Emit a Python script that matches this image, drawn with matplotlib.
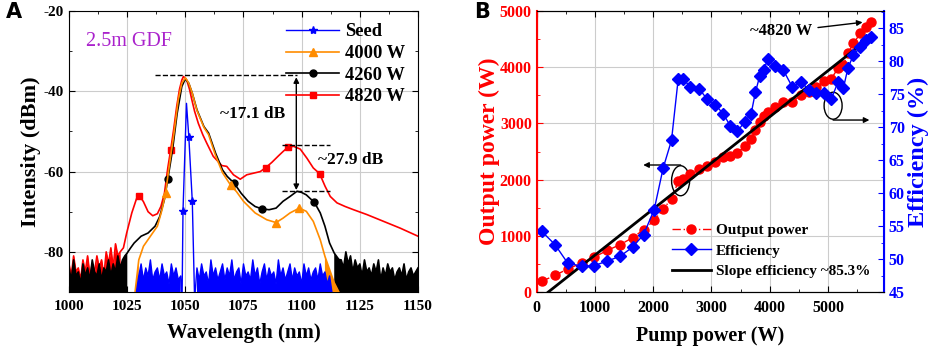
import matplotlib
matplotlib.use("Agg")
import matplotlib.pyplot as plt
import numpy as np
from matplotlib.patches import Ellipse

plt.rcParams['font.family'] = ['Liberation Serif', 'DejaVu Serif']
plt.rcParams['font.weight'] = 'bold'
plt.rcParams['axes.unicode_minus'] = False

# ---------------- Panel A: spectra ----------------
# noise-floor parts are given as their upper envelope (filled down to the axis)
seed_wl_left = np.arange(1029, 1049)
seed_left = [-90, -86, -83, -87, -84, -86, -82, -87, -85, -84,
             -87, -83, -86, -85, -88, -83, -86, -84, -87, -86]
seed_wl_peak = [1048.6, 1049, 1050.5, 1051.5, 1053, 1054]
seed_peak = [-92, -69.8, -43, -51.3, -67.4, -92]
seed_wl_right = np.arange(1055, 1114)
seed_right = [-84, -87, -83, -86, -85, -88, -82, -86, -84, -87,
              -85, -83, -87, -84, -86, -82, -87, -85, -84, -88,
              -83, -86, -85, -87, -82, -86, -84, -88, -85, -83,
              -87, -84, -86, -85, -88, -82, -86, -84, -87, -85,
              -83, -87, -84, -86, -85, -88, -83, -86, -84, -87,
              -85, -84, -87, -83, -86, -85, -88, -86, -90]
seed_marks = [1049, 1051.5, 1053]

w4000_wl = [1028.4, 1030, 1032, 1035, 1038, 1040, 1041.5, 1043, 1045, 1047,
            1048.5, 1050, 1051.5, 1053, 1055, 1058, 1060, 1063, 1066, 1069.5,
            1072, 1075, 1080, 1085, 1089, 1092, 1095, 1099, 1102, 1105,
            1108, 1110, 1112, 1114, 1116, 1117]
w4000 = [-90, -82, -78.6, -76.1, -73.6, -69.5, -65.4, -59, -51, -42,
         -38, -36.6, -38, -40.5, -44.8, -49, -50.8, -56, -60.3, -63.4,
         -65, -67.4, -70.3, -72, -72.7, -71.6, -70.3, -69.1, -69.9, -72.4,
         -77, -81.1, -84.4, -87.7, -90, -92]
w4000_marks = [1041.5, 1069.5, 1089, 1099]

w4260_wl_left = np.arange(1000, 1025)
w4260_left = [-84, -87, -82, -86, -85, -88, -83, -86, -84, -87, -82, -85, -86,
              -83, -87, -84, -85, -82, -86, -83, -85, -81, -84, -82, -81]
w4260_wl = [1025, 1026.5, 1028, 1031, 1034, 1037, 1039, 1041, 1042.5, 1044.5,
            1046.5, 1048.5, 1050, 1051.5, 1053, 1055, 1058, 1060, 1063, 1066,
            1068, 1071, 1074, 1077, 1080, 1083, 1086, 1089, 1092, 1095,
            1098, 1100, 1102, 1105.5, 1108, 1110, 1112, 1114, 1116]
w4260 = [-80.3, -79, -77.8, -76.1, -75.3, -73.6, -71.2, -67, -61.8, -54.6,
         -45.5, -38.8, -36.9, -38, -40.5, -44.6, -48.8, -50.4, -55.4, -59.6,
         -61.2, -62.9, -65.4, -67.4, -68.7, -69.3, -69.5, -69.1, -67.4, -66.2,
         -64.9, -65.2, -65.8, -67.7, -70.3, -73.6, -77.8, -80.3, -81.9]
w4260_wl_right = np.arange(1117, 1151)
w4260_right = [-82, -84, -80, -83, -81, -85, -82, -84, -83, -86,
               -82, -85, -84, -86, -83, -85, -82, -87, -84, -86,
               -83, -85, -84, -87, -85, -84, -86, -83, -87, -85,
               -84, -86, -85, -84]
w4260_marks = [1042.5, 1071, 1083, 1105.5]

w4820_wl_left = np.arange(1000, 1022)
w4820_left = [-83, -86, -81, -85, -84, -87, -82, -85, -81, -86, -83,
              -85, -81, -84, -82, -86, -80, -83, -79, -84, -78, -81]
w4820_wl = [1022, 1023.4, 1024.8, 1027, 1029, 1030.3, 1032, 1034, 1036, 1038,
            1039.5, 1041, 1042.5, 1043.7, 1045, 1046.3, 1047.5, 1048.5, 1049.2, 1050.6,
            1051.8, 1052.8, 1054, 1055.6, 1057.5, 1059.2, 1062, 1065.7, 1067.8, 1070.7,
            1073.6, 1076.4, 1079.3, 1082.2, 1084.6, 1087.2, 1090, 1092, 1094, 1096.5,
            1099.4, 1102.3, 1105, 1107.7, 1110.1, 1112.3, 1115.2, 1118.7, 1122.3, 1128,
            1135.2, 1142.4, 1150]
w4820 = [-80, -79, -75.3, -70.3, -66.8, -66, -67.5, -70, -71, -70.5,
         -68.7, -65.5, -59, -54.6, -49.5, -43.8, -39.5, -37.2, -36.3, -37.2,
         -39.5, -42.1, -45, -48, -50.8, -52.9, -56.2, -58.5, -58.7, -60.8,
         -61.9, -60.8, -60.4, -60, -59, -57.7, -56.1, -55, -54, -53.7,
         -54.4, -56.7, -59.1, -60.5, -63.7, -66.2, -67.8, -68.7, -69.5, -70.7,
         -72.4, -74.1, -76.1]
w4820_marks = [1030.3, 1043.7, 1084.6, 1094, 1107.7]

# ---------------- Panel B: power & efficiency ----------------
pump = [86, 314, 531, 771, 989, 1211, 1429, 1646, 1835, 2017,
        2171, 2314, 2429, 2514, 2635, 2789, 2920, 3063, 3205, 3320,
        3446, 3571, 3680, 3754, 3830, 3900, 3965, 4097, 4235, 4386,
        4537, 4671, 4800, 4935, 5057, 5171, 5263, 5343, 5435, 5557,
        5657, 5737]
out_power = [190, 296, 409, 515, 622, 740, 841, 966, 1108, 1274,
             1481, 1653, 1967, 2008, 2103, 2186, 2251, 2316, 2399, 2429,
             2470, 2601, 2719, 2885, 3021, 3134, 3211, 3300, 3389, 3389,
             3507, 3566, 3643, 3756, 3797, 3981, 4040, 4248, 4425, 4603,
             4722, 4810]
efficiency = [54.2, 52.2, 49.4, 48.9, 49.0, 49.7, 50.4, 51.8, 53.7, 57.5,
              63.8, 68.0, 77.3, 77.3, 76.1, 75.8, 74.3, 73.4, 72.0, 70.2,
              69.4, 70.8, 72.0, 75.3, 77.8, 78.7, 80.3, 79.2, 78.6, 76.1,
              76.8, 75.7, 75.2, 75.1, 74.3, 76.8, 75.9, 79.0, 80.9, 82.2,
              83.2, 83.7]
slope_pump = [200, 5490]
slope_out = [0, 4340]


def mark_idx(wl, marks):
    wl = np.asarray(wl)
    return [int(np.argmin(np.abs(wl - m))) for m in marks]


fig = plt.figure(figsize=(9.41, 3.54), dpi=100)

# ---- A ----
axA = fig.add_axes([0.0733, 0.1751, 0.3709, 0.7938])
ms = 5
orange = '#FF8C00'

r_wl = np.concatenate([w4820_wl_left, w4820_wl])
r_val = np.concatenate([w4820_left, w4820])
axA.plot(r_wl, r_val, color='red', lw=1.2, marker='s', ms=ms,
         markevery=mark_idx(r_wl, w4820_marks), label='4820 W', zorder=2)
axA.fill_between(r_wl, r_val, -95, where=r_wl < 1023, color='red', lw=0, zorder=2)

k_wl = np.concatenate([w4260_wl_left, w4260_wl, w4260_wl_right])
k_val = np.concatenate([w4260_left, w4260, w4260_right])
axA.plot(k_wl, k_val, color='black', lw=1.2, marker='o', ms=ms,
         markevery=mark_idx(k_wl, w4260_marks), label='4260 W', zorder=3)
axA.fill_between(k_wl, k_val, -95, where=(k_wl < 1026) | (k_wl > 1113),
                 color='black', lw=0, zorder=3)

o_wl = np.asarray(w4000_wl)
o_val = np.asarray(w4000)
axA.plot(o_wl, o_val, color=orange, lw=1.2, marker='^', ms=ms + 1,
         markevery=mark_idx(o_wl, w4000_marks), label='4000 W', zorder=4)
axA.fill_between(o_wl, o_val, -95, where=(o_wl < 1031) | (o_wl > 1109),
                 color=orange, lw=0, zorder=4)

s_wl = np.concatenate([seed_wl_left, seed_wl_peak, seed_wl_right])
s_val = np.concatenate([seed_left, seed_peak, seed_right])
axA.plot(s_wl, s_val, color='blue', lw=1.0, marker='*', ms=ms + 1,
         markevery=mark_idx(s_wl, seed_marks), label='Seed', zorder=5)
axA.fill_between(s_wl, s_val, -95, where=(s_wl < 1048.5) | (s_wl > 1054.5),
                 color='blue', lw=0, zorder=5)

axA.set_xlim(1000, 1150)
axA.set_ylim(-90, -20)
axA.set_xticks([1000, 1025, 1050, 1075, 1100, 1125, 1150])
axA.set_yticks([-20, -40, -60, -80])
axA.set_xticks(np.arange(1012.5, 1150, 25), minor=True)
axA.set_yticks(np.arange(-90, -20, 10), minor=True)
axA.grid(True, color='#cccccc', lw=0.8, zorder=0)
axA.tick_params(which='both', direction='in', top=True, right=True, labelsize=11)
axA.tick_params(axis='x', pad=6)
axA.tick_params(which='major', length=4)
axA.tick_params(which='minor', length=2)
axA.set_xlabel('Wavelength (nm)', fontsize=15, fontweight='bold', labelpad=7)
axA.set_ylabel('Intensity (dBm)', fontsize=16, fontweight='bold', labelpad=2)

h, l = axA.get_legend_handles_labels()
axA.legend(h[::-1], l[::-1], loc='upper right', bbox_to_anchor=(0.995, 0.995),
           frameon=False, fontsize=13.3, handlelength=2.9, labelspacing=0.25,
           handletextpad=0.3, borderaxespad=0.2)

axA.text(1007.3, -27.7, '2.5m GDF', color='#AA22CC', fontsize=14.5,
         fontweight='normal', va='center')
axA.plot([1037, 1098], [-36, -36], 'k--', lw=1.0)
axA.plot([1091.5, 1112.3], [-53.3, -53.3], 'k--', lw=1.0)
axA.plot([1091.5, 1112.3], [-64.8, -64.8], 'k--', lw=1.0)
axA.annotate('', xy=(1097.7, -36.5), xytext=(1097.7, -64.6),
             arrowprops=dict(arrowstyle='<|-|>', color='black', lw=1.0,
                             mutation_scale=8, shrinkA=0, shrinkB=0))
axA.text(1079, -45.7, '~17.1 dB', ha='center', va='center', fontsize=12.5)
axA.text(1121, -57, '~27.9 dB', ha='center', va='center', fontsize=12.5)

# ---- B ----
axB = fig.add_axes([0.5703, 0.1751, 0.3691, 0.7938])
axE = axB.twinx()
axB.plot(slope_pump, slope_out, color='black', lw=2, label='Slope efficiency ~85.3%', zorder=3)
axB.plot(pump, out_power, color='red', ls=(0, (6, 2, 1, 2)), lw=1, marker='o', ms=6.5,
         label='Output power', zorder=2)
lineE, = axE.plot(pump, efficiency, color='blue', lw=1, marker='D', ms=6,
                  label='Efficiency')

axB.set_xlim(0, 5960)
axB.set_ylim(0, 5000)
axE.set_ylim(45, 87.6)
axB.set_xticks(np.arange(0, 6000, 1000))
axB.set_xticks(np.arange(500, 6000, 1000), minor=True)
axB.set_yticks(np.arange(0, 5001, 1000))
axB.set_yticks(np.arange(500, 5000, 1000), minor=True)
axE.set_yticks(np.arange(45, 86, 5))
axE.set_yticks(np.arange(47.5, 87.6, 5), minor=True)
axB.grid(True, color='#cccccc', lw=0.8, zorder=0)
axB.set_axisbelow(True)

axB.tick_params(which='both', direction='in', top=True, labelsize=11.5)
axB.tick_params(axis='x', pad=6)
axB.tick_params(axis='y', which='both', colors='red', labelsize=11.5)
axB.tick_params(which='major', length=4)
axB.tick_params(which='minor', length=2)
axE.tick_params(which='both', direction='in', colors='blue', labelsize=11.5)
axE.tick_params(which='major', length=4)
axE.tick_params(which='minor', length=2)
axE.spines['left'].set_color('red')
axE.spines['right'].set_color('blue')
axE.spines['left'].set_linewidth(1.5)
axE.spines['right'].set_linewidth(1.5)
axB.spines['left'].set_color('red')
axB.spines['right'].set_color('blue')

axB.set_xlabel('Pump power (W)', fontsize=14.5, fontweight='bold', labelpad=7)
axB.set_ylabel('Output power (W)', fontsize=17, fontweight='bold', color='red', labelpad=0)
axE.set_ylabel('Efficiency (%)', fontsize=17.5, fontweight='bold', color='blue', labelpad=2)

hB, lB = axB.get_legend_handles_labels()
axB.legend([hB[1], lineE, hB[0]], [lB[1], 'Efficiency', lB[0]], loc='lower right',
           bbox_to_anchor=(1.0, 0.0), frameon=False, fontsize=11,
           handlelength=2.6, labelspacing=0.45, handletextpad=0.3)

axB.annotate('', xy=(5640, 4805), xytext=(4780, 4700),
             arrowprops=dict(arrowstyle='-|>', color='black', lw=1.0, mutation_scale=8))
axB.text(4200, 4640, '~4820 W', ha='center', va='center', fontsize=12)
axB.add_patch(Ellipse((5087, 3315), 309, 480, fill=False, ec='black', lw=1.0))
axB.annotate('', xy=(5710, 3060), xytext=(5087, 3060),
             arrowprops=dict(arrowstyle='-|>', color='black', lw=1.0, mutation_scale=8,
                             shrinkA=0, shrinkB=0))
axB.add_patch(Ellipse((2470, 1980), 309, 534, fill=False, ec='black', lw=1.0))
axB.annotate('', xy=(1829, 2260), xytext=(2470, 2260),
             arrowprops=dict(arrowstyle='-|>', color='black', lw=1.0, mutation_scale=8,
                             shrinkA=0, shrinkB=0))

fig.text(0.006, 0.965, 'A', fontsize=15, fontweight='bold', family='DejaVu Sans', va='center')
fig.text(0.504, 0.965, 'B', fontsize=15, fontweight='bold', family='DejaVu Sans', va='center')

fig.savefig('out.png', dpi=100)
